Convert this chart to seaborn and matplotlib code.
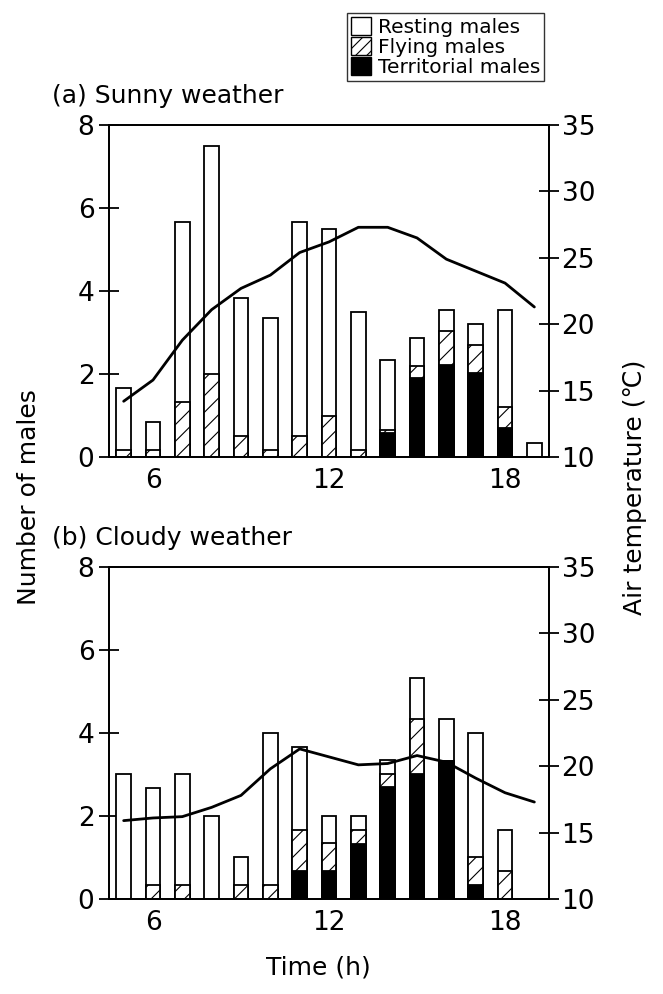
import numpy as np
import pandas as pd
import seaborn as sns
from matplotlib import pyplot as plt
from matplotlib.patches import Patch

# hours of the day
hours = [5, 6, 7, 8, 9, 10, 11, 12, 13, 14, 15, 16, 17, 18, 19]

# (a) sunny weather, mean number of males per category
sunny_resting = [1.50, 0.67, 4.33, 5.50, 3.33, 3.17, 5.17, 4.50, 3.33, 1.67, 0.67, 0.52, 0.52, 2.35, 0.35]
sunny_flying = [0.17, 0.17, 1.33, 2.00, 0.50, 0.17, 0.50, 1.00, 0.17, 0.08, 0.30, 0.81, 0.67, 0.51, 0.00]
sunny_territorial = [0, 0, 0, 0, 0, 0, 0, 0, 0, 0.58, 1.90, 2.22, 2.02, 0.69, 0]
sunny_temp = [14.2, 15.8, 18.8, 21.1, 22.7, 23.7, 25.4, 26.2, 27.3, 27.3, 26.5, 24.9, 24.0, 23.1, 21.3]

# (b) cloudy weather
cloudy_resting = [3.00, 2.34, 2.67, 2.00, 0.67, 3.67, 2.00, 0.67, 0.33, 0.35, 1.00, 1.00, 3.00, 1.00, 0]
cloudy_flying = [0, 0.33, 0.33, 0, 0.33, 0.33, 1.00, 0.67, 0.33, 0.30, 1.33, 0, 0.67, 0.67, 0]
cloudy_territorial = [0, 0, 0, 0, 0, 0, 0.67, 0.67, 1.33, 2.70, 3.00, 3.33, 0.33, 0, 0]
cloudy_temp = [15.9, 16.1, 16.2, 16.9, 17.8, 19.8, 21.3, 20.7, 20.1, 20.2, 20.8, 20.3, 19.1, 18.0, 17.3]

sns.set_style("ticks")
plt.rcParams['font.family'] = ['DejaVu Sans']
plt.rcParams['hatch.linewidth'] = 0.8
for key in ['text.color', 'axes.labelcolor', 'xtick.color', 'ytick.color', 'axes.edgecolor']:
    plt.rcParams[key] = 'black'

fig = plt.figure(figsize=(6.63, 9.94), dpi=100)
ax_a = fig.add_axes([0.1644, 0.5402, 0.6637, 0.334])
ax_b = fig.add_axes([0.1644, 0.0956, 0.6637, 0.334])


def panel(ax, resting, flying, territorial, temp, title):
    df = pd.DataFrame({"Hour": hours, "Resting": resting, "Flying": flying,
                       "Territorial": territorial, "Temp": temp})
    df["Fly_top"] = df["Territorial"] + df["Flying"]
    df["Total"] = df["Fly_top"] + df["Resting"]
    bars = df[df["Total"] > 0]

    common = dict(x="Hour", native_scale=True, width=0.5, errorbar=None,
                  saturation=1, edgecolor="black", linewidth=1.3, ax=ax)
    sns.barplot(data=bars, y="Total", color="white", **common)
    sns.barplot(data=bars[bars["Fly_top"] > 0], y="Fly_top", color="white", hatch="//", **common)
    sns.barplot(data=bars[bars["Territorial"] > 0], y="Territorial", color="black", **common)

    ax.set_xlim(4.5, 19.5)
    ax.set_ylim(0, 8)
    ax.set_yticks([0, 2, 4, 6, 8])
    ax.set_xticks([6, 12, 18])
    ax.set_xlabel("")
    ax.set_ylabel("")
    ax.tick_params(axis="y", direction="inout", length=14, width=1.3, labelsize=19)
    ax.tick_params(axis="x", length=0, labelsize=19, pad=8)
    for s in ax.spines.values():
        s.set_linewidth(1.3)

    ax2 = ax.twinx()
    sns.lineplot(data=df, x="Hour", y="Temp", color="black", linewidth=2, ax=ax2)
    ax2.set_ylim(10, 35)
    ax2.set_yticks([10, 15, 20, 25, 30, 35])
    ax2.set_ylabel("")
    ax2.tick_params(axis="y", direction="inout", length=14, width=1.3, labelsize=19, pad=2)
    for s in ax2.spines.values():
        s.set_linewidth(1.3)

    ax.text(-0.13, 1.05, title, transform=ax.transAxes, fontsize=18, ha="left", va="bottom")


panel(ax_a, sunny_resting, sunny_flying, sunny_territorial, sunny_temp, "(a) Sunny weather")
panel(ax_b, cloudy_resting, cloudy_flying, cloudy_territorial, cloudy_temp, "(b) Cloudy weather")

fig.text(0.043, 0.5, "Number of males", rotation=90, fontsize=18, ha="center", va="center")
fig.text(0.958, 0.51, "Air temperature (\u2103)", rotation=90, fontsize=18, ha="center", va="center")
fig.text(0.48, 0.027, "Time (h)", fontsize=18, ha="center", va="center")

handles = [Patch(facecolor="white", edgecolor="black", label="Resting males"),
           Patch(facecolor="white", edgecolor="black", hatch="///", label="Flying males"),
           Patch(facecolor="black", edgecolor="black", label="Territorial males")]
fig.legend(handles=handles, loc="upper right", bbox_to_anchor=(0.821, 0.987),
           fontsize=14.5, frameon=True, fancybox=False, edgecolor="black",
           handlelength=1.0, handleheight=1.0, handletextpad=0.35,
           labelspacing=0.0, borderpad=0.2, borderaxespad=0)

fig.savefig("out.png", dpi=100)
